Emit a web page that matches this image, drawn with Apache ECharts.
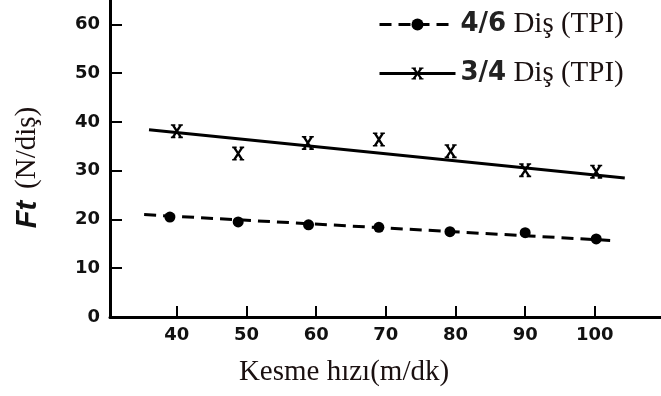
<!DOCTYPE html>
<html><head><meta charset="utf-8">
<script src="https://cdn.jsdelivr.net/npm/echarts@6/dist/echarts.min.js"></script>
<style>html,body{margin:0;padding:0;background:#fff}#c{width:661px;height:396px}</style>
</head><body><div id="c"></div>
<script>
// tick labels
const xTicks = [40, 50, 60, 70, 80, 90, 100];
const yTicks = [0, 10, 20, 30, 40, 50, 60];
// series names
const seriesNames = ['4/6 Diş (TPI)', '3/4 Diş (TPI)'];
// 4/6 measured points (dots)
const dotX = [39, 48.8, 58.9, 69, 79.2, 90, 100.2];
const dotY = [20.5, 19.5, 18.9, 18.4, 17.5, 17.3, 16.0];
// 3/4 measured points (crosses)
const crossX = [40, 48.8, 58.8, 69, 79.3, 90, 100.2];
const crossY = [38.1, 33.5, 35.7, 36.4, 34.0, 30.1, 29.8];
// fitted trend lines (end points)
const dashFitX = [35.3, 102.2];
const dashFitY = [21.0, 15.7];
const solidFitX = [36, 104.3];
const solidFitY = [38.4, 28.5];

const pairs = (xs, ys) => xs.map((x, i) => [x, ys[i]]);
const crossPath = 'path://M0,0H4.5V1.6H3.9L6,4.84L8.1,1.6H7.5V0H12V1.6H10.9L7.4,7L10.9,12.4H12V14H7.5V12.4H8.1L6,9.16L3.9,12.4H4.5V14H0V12.4H1.1L4.6,7L1.1,1.6H0Z';
const ink = '#000';

const chart = echarts.init(document.getElementById('c'), null, {renderer: 'canvas'});
chart.setOption({
  animation: false,
  backgroundColor: '#fff',
  grid: {left: 110, right: 0, top: 0, bottom: 79, containLabel: false},
  legend: {
    data: seriesNames,
    orient: 'vertical',
    left: 378, top: 10, padding: 0,
    itemWidth: 76, itemHeight: 15, itemGap: 20,
    selectedMode: false,
    lineStyle: {width: 3},
    formatter: function (name) {
      const i = name.indexOf(' ');
      return '{n|' + name.slice(0, i) + '}{t| ' + name.slice(i + 1) + '}';
    },
    textStyle: {
      color: ink,
      rich: {
        n: {fontFamily: 'DejaVu Sans', fontWeight: 'bold', fontSize: 26, lineHeight: 32, color: '#222'},
        t: {fontFamily: 'Liberation Serif', fontSize: 29, lineHeight: 32, color: '#1a1010'}
      }
    }
  },
  xAxis: {
    type: 'value', min: 30.4, max: 109.5,
    name: 'Kesme hızı(m/dk)', nameLocation: 'middle', nameGap: 41,
    nameTextStyle: {fontFamily: 'Liberation Serif', fontSize: 29, color: '#1a1010', padding: [0, 83, 0, 0]},
    axisLine: {lineStyle: {color: ink, width: 3}},
    axisTick: {inside: true, length: 11, lineStyle: {color: ink, width: 2}, customValues: xTicks},
    axisLabel: {customValues: xTicks, margin: 9, color: '#111', fontFamily: 'DejaVu Sans', fontWeight: 'bold', fontSize: 18},
    splitLine: {show: false}
  },
  yAxis: {
    type: 'value', min: 0, max: 65,
    name: '{f|Ft}{s| }{u|(N/diş)}', nameLocation: 'middle', nameGap: 68, nameRotate: 90,
    nameTextStyle: {
      color: ink, padding: [0, 18, 0, 0],
      rich: {
        f: {fontFamily: 'Liberation Sans', fontStyle: 'italic', fontWeight: 'bold', fontSize: 29, color: '#111'},
        s: {fontFamily: 'Liberation Serif', fontSize: 29, width: 12},
        u: {fontFamily: 'Liberation Serif', fontSize: 29, color: '#1a1010'}
      }
    },
    axisLine: {lineStyle: {color: ink, width: 3}},
    axisTick: {inside: true, length: 12, lineStyle: {color: ink, width: 2}, customValues: yTicks},
    axisLabel: {customValues: yTicks, margin: 10, color: '#111', fontFamily: 'DejaVu Sans', fontWeight: 'bold', fontSize: 18},
    splitLine: {show: false}
  },
  series: [
    {
      name: seriesNames[0], type: 'line', silent: true,
      data: pairs(dashFitX, dashFitY),
      symbol: 'circle', symbolSize: 10, showSymbol: false,
      itemStyle: {color: ink},
      lineStyle: {color: ink, width: 3, type: [12, 7]}
    },
    {
      name: seriesNames[1], type: 'line', silent: true,
      data: pairs(solidFitX, solidFitY),
      symbol: crossPath, symbolSize: [12, 14], showSymbol: false,
      itemStyle: {color: ink},
      lineStyle: {color: ink, width: 3, type: 'solid'}
    },
    {
      type: 'scatter', silent: true,
      data: pairs(crossX, crossY),
      symbol: 'rect', symbolSize: [18, 10],
      itemStyle: {color: '#fff', opacity: 1}
    },
    {
      name: seriesNames[1], type: 'scatter', silent: true,
      data: pairs(crossX, crossY),
      symbol: crossPath, symbolSize: [12, 14],
      itemStyle: {color: ink, opacity: 1}
    },
    {
      name: seriesNames[0], type: 'scatter', silent: true,
      data: pairs(dotX, dotY),
      symbol: 'circle', symbolSize: 11,
      itemStyle: {color: ink, opacity: 1}
    }
  ]
});
</script>
</body></html>
